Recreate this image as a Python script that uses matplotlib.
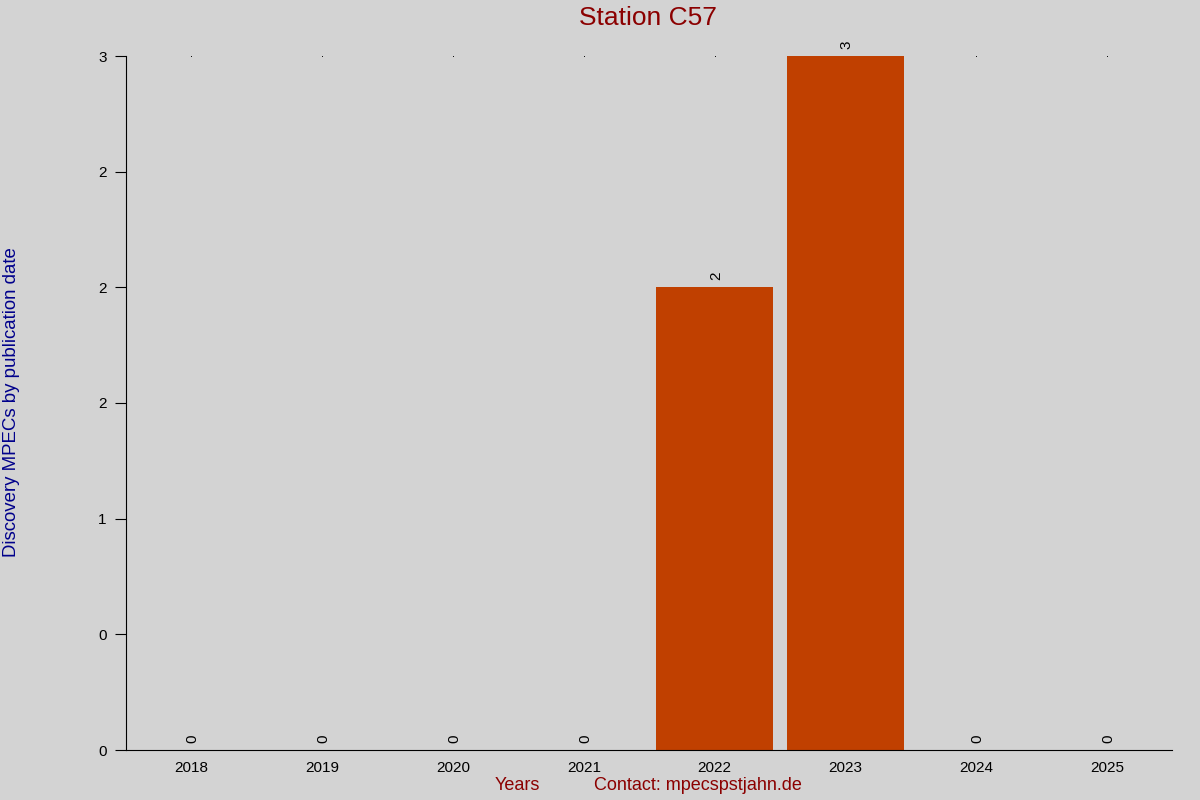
import numpy as np
import matplotlib
matplotlib.use('Agg')
import matplotlib.pyplot as plt
from matplotlib.ticker import FormatStrFormatter

plt.rcParams['font.family'] = ['Liberation Sans', 'DejaVu Sans']

years = ['2018', '2019', '2020', '2021', '2022', '2023', '2024', '2025']
counts = [0, 0, 0, 0, 2, 3, 0, 0]

bg = '#d3d3d3'
fig = plt.figure(figsize=(12, 8), dpi=100, facecolor=bg)
ax = fig.add_axes([0.105, 0.0625, 0.872, 0.8675], facecolor=bg)

x = np.arange(len(years))
# tiny dots at the top of each column (drawn under the bars)
ax.plot(x, [max(counts)] * len(x), linestyle='none', marker='s', markersize=0.6,
        markeredgewidth=0, color='black', clip_on=False, zorder=0.5)
ax.bar(x, counts, width=0.9, color='#c04000', zorder=1)

for xi, c in zip(x, counts):
    ax.text(xi + 0.01, c + 0.03, str(c), rotation=90, ha='center', va='bottom', fontsize=11)

ax.set_xlim(-0.5, len(years) - 0.5)
ax.set_ylim(0, 3)
ax.set_xticks(x)
ax.set_xticklabels(years)
ax.set_yticks(np.arange(0, 3.01, 0.5))
ax.yaxis.set_major_formatter(FormatStrFormatter('%.0f'))
ax.tick_params(axis='x', length=0, labelsize=11, pad=8)
ax.tick_params(axis='y', length=8, labelsize=11, pad=6)

for s in ['top', 'right']:
    ax.spines[s].set_visible(False)

fig.text(0.54, 0.977, 'Station C57', ha='center', va='center', fontsize=19, color='#8b0000')
fig.text(0.01, 0.4975, 'Discovery MPECs by publication date', rotation=90, ha='center', va='center',
         fontsize=13.4, color='#00008b')
fig.text(0.431, 0.018, 'Years', ha='center', va='center', fontsize=13, color='#8b0000')
fig.text(0.582, 0.018, 'Contact: mpecspstjahn.de', ha='center', va='center', fontsize=13, color='#8b0000')

fig.savefig('out.png', dpi=100, facecolor=bg)
